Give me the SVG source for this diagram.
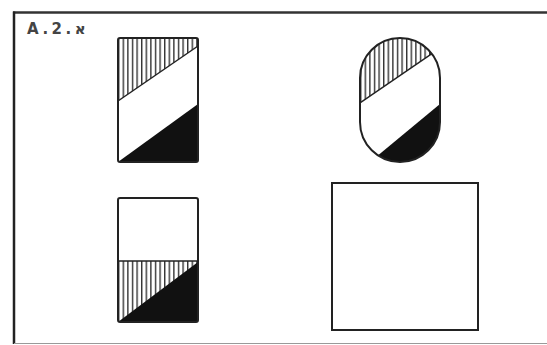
<svg xmlns="http://www.w3.org/2000/svg" width="547" height="345" viewBox="0 0 547 345">
<defs>
<pattern id="hatch" patternUnits="userSpaceOnUse" width="4.6" height="10" x="118" y="0">
<rect x="0" y="0" width="1.4" height="10" fill="#333"/>
</pattern>
<pattern id="hatch2" patternUnits="userSpaceOnUse" width="4.6" height="10" x="360" y="0">
<rect x="0" y="0" width="1.4" height="10" fill="#333"/>
</pattern>
<clipPath id="ovalclip"><rect x="360" y="38" width="80" height="124" rx="40" ry="40"/></clipPath>
</defs>
<style>
.out{fill:none;stroke:#222;stroke-width:2}
.blk{fill:#111}
.lbl{font-family:"DejaVu Sans",sans-serif;font-size:15px;font-weight:bold;fill:#444;letter-spacing:3.5px}
</style>
<rect x="0" y="0" width="547" height="345" fill="#fff"/>
<g id="frame">
<line x1="13" y1="12.5" x2="547" y2="12.5" stroke="#333" stroke-width="2.5"/>
<line x1="14" y1="11.5" x2="14" y2="344" stroke="#222" stroke-width="2.5"/>
<line x1="14" y1="343.5" x2="547" y2="343.5" stroke="#999" stroke-width="1.2"/>
</g>
<text class="lbl" x="27" y="34" direction="ltr" unicode-bidi="bidi-override">A.2.א</text>
<g id="shape-rect-top">
<polygon points="118,38 198,38 198,46 118,101" fill="url(#hatch)"/>
<line x1="118" y1="101" x2="198" y2="46" stroke="#222" stroke-width="1.5"/>
<polygon class="blk" points="118,162 198,104 198,162"/>
<rect class="out" x="118" y="38" width="80" height="124" rx="2"/>
</g>
<g id="shape-oval">
<g clip-path="url(#ovalclip)">
<polygon points="360,38 440,38 440,48 360,103" fill="url(#hatch2)"/>
<line x1="360" y1="103" x2="440" y2="48" stroke="#222" stroke-width="1.5"/>
<polygon class="blk" points="370,162 440,104 440,162"/>
</g>
<rect class="out" x="360" y="38" width="80" height="124" rx="40" ry="40"/>
</g>
<g id="shape-rect-bottom">
<rect x="118" y="261" width="80" height="61" fill="url(#hatch)"/>
<polygon class="blk" points="118,322 198,262 198,322"/>
<line x1="118" y1="261" x2="198" y2="261" stroke="#222" stroke-width="1.5"/>
<rect class="out" x="118" y="198" width="80" height="124" rx="2"/>
</g>
<g id="shape-square">
<rect class="out" x="332" y="183" width="146" height="147" stroke="#444"/>
</g>
<g id="connectors"/>
</svg>
